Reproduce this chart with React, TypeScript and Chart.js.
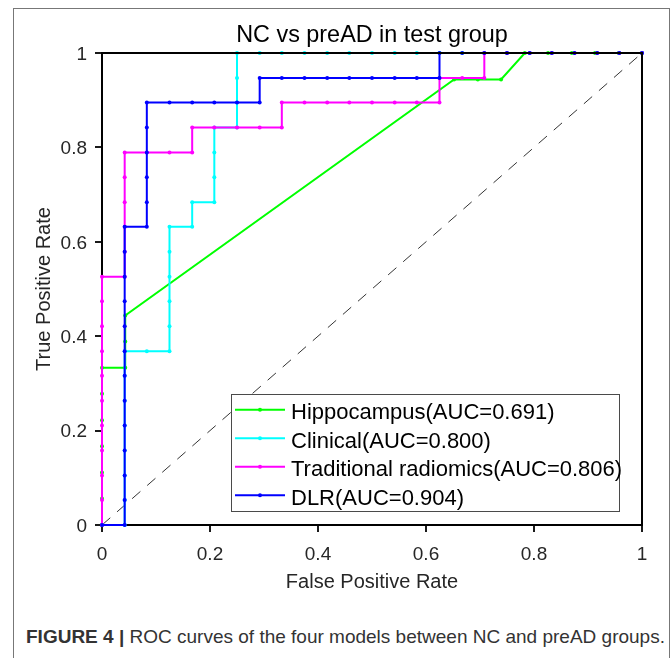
import React, { useEffect, useRef } from 'react';
import { Chart, registerables } from 'chart.js';

Chart.register(...registerables);

// ---------- text ----------
const TITLE = 'NC vs preAD in test group';
const X_LABEL = 'False Positive Rate';
const Y_LABEL = 'True Positive Rate';
const CAPTION_BOLD = 'FIGURE 4 |';
const CAPTION_TEXT = ' ROC curves of the four models between NC and preAD groups.';

// ---------- ticks ----------
const xTickValues = [0, 0.2, 0.4, 0.6, 0.8, 1];
const xTickLabels = ['0', '0.2', '0.4', '0.6', '0.8', '1'];
const yTickValues = [0, 0.2, 0.4, 0.6, 0.8, 1];
const yTickLabels = ['0', '0.2', '0.4', '0.6', '0.8', '1'];

// ---------- series ----------
const seriesNames = [
  'Hippocampus(AUC=0.691)',
  'Clinical(AUC=0.800)',
  'Traditional radiomics(AUC=0.806)',
  'DLR(AUC=0.904)',
];
const seriesColors = ['#00ff00', '#00ffff', '#ff00ff', '#0000ff'];

const hippoFPR = [0, 0, 0, 0, 0, 0, 0, 0.043, 0.043, 0.043, 0.652, 0.696, 0.739, 0.783, 0.826, 0.87, 0.913, 0.957, 1];
const hippoTPR = [0, 0.056, 0.111, 0.167, 0.222, 0.278, 0.333, 0.333, 0.389, 0.444, 0.944, 0.944, 0.944, 1, 1, 1, 1, 1, 1];

const clinicalFPR = [
  0,
  0.042, 0.042, 0.042, 0.042, 0.042, 0.042, 0.042, 0.042,
  0.083, 0.125,
  0.125, 0.125, 0.125, 0.125, 0.125,
  0.167, 0.167,
  0.208, 0.208, 0.208, 0.208,
  0.25, 0.25, 0.25, 0.25,
  0.292, 0.333, 0.375, 0.417, 0.458, 0.5, 0.542, 0.583, 0.625, 0.667, 0.708, 0.75, 0.792, 0.833, 0.875, 0.917, 0.958, 1,
];
const clinicalTPR = [
  0,
  0, 0.053, 0.105, 0.158, 0.211, 0.263, 0.316, 0.368,
  0.368, 0.368,
  0.421, 0.474, 0.526, 0.579, 0.632,
  0.632, 0.684,
  0.684, 0.737, 0.789, 0.842,
  0.842, 0.895, 0.947, 1,
  1, 1, 1, 1, 1, 1, 1, 1, 1, 1, 1, 1, 1, 1, 1, 1, 1, 1,
];

const radiomicsFPR = [
  0, 0, 0, 0, 0, 0, 0, 0, 0, 0, 0,
  0.042, 0.042, 0.042, 0.042, 0.042, 0.042,
  0.083, 0.125, 0.167,
  0.167,
  0.208, 0.25, 0.292, 0.333,
  0.333,
  0.375, 0.417, 0.458, 0.5, 0.542, 0.583, 0.625,
  0.625,
  0.667, 0.708,
  0.708,
  0.75, 0.792, 0.833, 0.875, 0.917, 0.958, 1,
];
const radiomicsTPR = [
  0, 0.053, 0.105, 0.158, 0.211, 0.263, 0.316, 0.368, 0.421, 0.474, 0.526,
  0.526, 0.579, 0.632, 0.684, 0.737, 0.789,
  0.789, 0.789, 0.789,
  0.842,
  0.842, 0.842, 0.842, 0.842,
  0.895,
  0.895, 0.895, 0.895, 0.895, 0.895, 0.895, 0.895,
  0.947,
  0.947, 0.947,
  1,
  1, 1, 1, 1, 1, 1, 1,
];

const dlrFPR = [
  0,
  0.042, 0.042, 0.042, 0.042, 0.042, 0.042, 0.042, 0.042, 0.042, 0.042, 0.042, 0.042, 0.042,
  0.083, 0.083, 0.083, 0.083, 0.083, 0.083,
  0.125, 0.167, 0.208, 0.25, 0.292,
  0.292,
  0.333, 0.375, 0.417, 0.458, 0.5, 0.542, 0.583, 0.625,
  0.625,
  0.667, 0.708, 0.75, 0.792, 0.833, 0.875, 0.917, 0.958, 1,
];
const dlrTPR = [
  0,
  0, 0.053, 0.105, 0.158, 0.211, 0.263, 0.316, 0.368, 0.421, 0.474, 0.526, 0.579, 0.632,
  0.632, 0.684, 0.737, 0.789, 0.842, 0.895,
  0.895, 0.895, 0.895, 0.895, 0.895,
  0.947,
  0.947, 0.947, 0.947, 0.947, 0.947, 0.947, 0.947, 0.947,
  1,
  1, 1, 1, 1, 1, 1, 1, 1, 1,
];

const chanceFPR = [0, 1];
const chanceTPR = [0, 1];

const FONT = '"Liberation Sans", Arial, Helvetica, sans-serif';

function zip(xs: number[], ys: number[]) {
  return xs.map((x, i) => ({ x, y: ys[i] }));
}

const overlayPlugin = {
  id: 'overlay',
  afterDatasetsDraw(chart: any) {
    const { ctx, chartArea: a } = chart;
    ctx.save();
    // top and right box edges
    ctx.strokeStyle = '#000';
    ctx.lineWidth = 2;
    ctx.beginPath();
    ctx.moveTo(a.left, a.top);
    ctx.lineTo(a.right, a.top);
    ctx.lineTo(a.right, a.bottom);
    ctx.stroke();

    // legend box
    const L = 231.5, T = 394.5, R = 619.5, B = 511.5;
    ctx.fillStyle = '#fff';
    ctx.fillRect(L, T, R - L, B - T);
    ctx.strokeStyle = '#4a4a4a';
    ctx.lineWidth = 1;
    ctx.strokeRect(L, T, R - L, B - T);
    const baselines = [419.3, 447.8, 476.3, 504.8];
    ctx.font = `22px ${FONT}`;
    ctx.textAlign = 'left';
    ctx.textBaseline = 'alphabetic';
    seriesNames.forEach((name, i) => {
      const cy = baselines[i] - 9.5;
      ctx.strokeStyle = seriesColors[i];
      ctx.lineWidth = 2;
      ctx.beginPath();
      ctx.moveTo(235, cy);
      ctx.lineTo(285, cy);
      ctx.stroke();
      ctx.fillStyle = seriesColors[i];
      ctx.beginPath();
      ctx.arc(260, cy, 2, 0, Math.PI * 2);
      ctx.fill();
      ctx.fillStyle = '#000';
      ctx.fillText(name, 291, baselines[i]);
    });
    ctx.restore();
  },
  afterDraw(chart: any) {
    const { ctx, chartArea: a, scales } = chart;
    const xs = scales.x;
    const ys = scales.y;
    ctx.save();
    // tick labels
    ctx.fillStyle = '#262626';
    ctx.font = `19px ${FONT}`;
    ctx.textBaseline = 'alphabetic';
    ctx.textAlign = 'center';
    xTickValues.forEach((v, i) => {
      ctx.fillText(xTickLabels[i], xs.getPixelForValue(v), 560);
    });
    ctx.textAlign = 'right';
    yTickValues.forEach((v, i) => {
      ctx.fillText(yTickLabels[i], 87, ys.getPixelForValue(v) + 6.8);
    });
    // axis titles
    ctx.font = `20px ${FONT}`;
    ctx.textAlign = 'center';
    ctx.fillText(X_LABEL, (a.left + a.right) / 2, 587.7);
    ctx.save();
    ctx.translate(50, (a.top + a.bottom) / 2);
    ctx.rotate(-Math.PI / 2);
    ctx.fillText(Y_LABEL, 0, 0);
    ctx.restore();
    // title
    ctx.fillStyle = '#000';
    ctx.font = `23.4px ${FONT}`;
    ctx.fillText(TITLE, (a.left + a.right) / 2, 42.3);
    ctx.restore();
  },
};

export default function App() {
  const ref = useRef<HTMLCanvasElement | null>(null);

  useEffect(() => {
    if (!ref.current) return;
    const lineDs = (label: string, fpr: number[], tpr: number[], color: string, order: number) => ({
      label,
      data: zip(fpr, tpr),
      borderColor: color,
      backgroundColor: color,
      borderWidth: 2,
      pointRadius: 2,
      pointBorderWidth: 0,
      pointBackgroundColor: color,
      tension: 0,
      clip: false as any,
      order,
    });
    const chart = new Chart(ref.current, {
      type: 'line',
      data: {
        datasets: [
          {
            label: 'chance',
            data: zip(chanceFPR, chanceTPR),
            borderColor: '#333',
            borderWidth: 1,
            borderDash: [11, 9],
            pointRadius: 0,
            tension: 0,
            clip: false as any,
            order: 5,
          },
          lineDs(seriesNames[0], hippoFPR, hippoTPR, seriesColors[0], 4),
          lineDs(seriesNames[1], clinicalFPR, clinicalTPR, seriesColors[1], 3),
          lineDs(seriesNames[2], radiomicsFPR, radiomicsTPR, seriesColors[2], 2),
          lineDs(seriesNames[3], dlrFPR, dlrTPR, seriesColors[3], 1),
        ] as any,
      },
      options: {
        animation: false,
        responsive: false,
        devicePixelRatio: 1,
        events: [],
        layout: { padding: { left: 0, right: 30, top: 53, bottom: 0 } },
        plugins: {
          legend: { display: false },
          tooltip: { enabled: false },
          title: { display: false },
        },
        scales: {
          x: {
            type: 'linear',
            min: 0,
            max: 1,
            afterBuildTicks: (s: any) => {
              s.ticks = xTickValues.map((v) => ({ value: v }));
            },
            afterFit: (s: any) => {
              s.height = 75;
            },
            ticks: { display: false },
            grid: {
              display: true,
              drawOnChartArea: false,
              drawTicks: true,
              tickLength: 7,
              tickWidth: 2,
              tickColor: '#1a1a1a',
              color: '#1a1a1a',
              lineWidth: 2,
            },
            border: { display: true, color: '#000', width: 2 },
          },
          y: {
            type: 'linear',
            min: 0,
            max: 1,
            afterBuildTicks: (s: any) => {
              s.ticks = yTickValues.map((v) => ({ value: v }));
            },
            afterFit: (s: any) => {
              s.width = 102;
            },
            ticks: { display: false },
            grid: {
              display: true,
              drawOnChartArea: false,
              drawTicks: true,
              tickLength: 7,
              tickWidth: 2,
              tickColor: '#1a1a1a',
              color: '#1a1a1a',
              lineWidth: 2,
            },
            border: { display: true, color: '#000', width: 2 },
          },
        },
      } as any,
      plugins: [overlayPlugin],
    });
    return () => chart.destroy();
  }, []);

  return (
    <div
      style={{
        position: 'absolute',
        left: 0,
        top: 0,
        width: 672,
        height: 658,
        overflow: 'hidden',
        background: '#fff',
      }}
    >
      <div
        style={{
          position: 'absolute',
          left: 13,
          top: 8,
          width: 655,
          height: 700,
          borderLeft: '1px solid #777',
          borderTop: '1px solid #777',
          borderRight: '1px solid #777',
        }}
      />
      <canvas
        ref={ref}
        width={672}
        height={600}
        style={{ position: 'absolute', left: 0, top: 0, width: 672, height: 600 }}
      />
      <div
        style={{
          position: 'absolute',
          left: 26,
          top: 627,
          whiteSpace: 'nowrap',
          fontFamily: FONT,
          fontSize: 19,
          lineHeight: '19px',
          color: '#333',
        }}
      >
        <span style={{ fontWeight: 'bold' }}>{CAPTION_BOLD}</span>
        {CAPTION_TEXT}
      </div>
    </div>
  );
}
